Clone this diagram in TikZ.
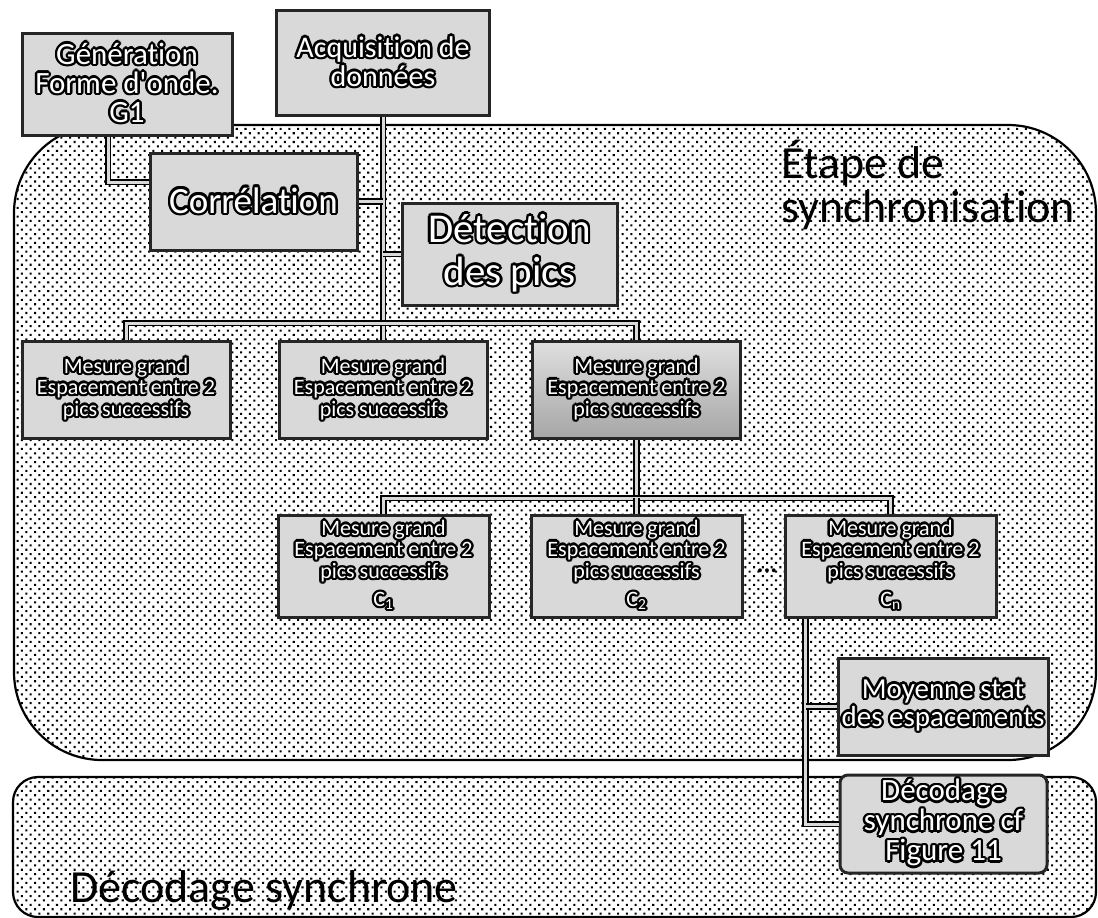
\documentclass[tikz,border=0pt]{standalone}
\usepackage{fontspec}
\setmainfont{Carlito}[Ligatures=NoCommon]
\usepackage{contour}
\contourlength{2.4pt}
\contournumber{12}
\usetikzlibrary{patterns.meta,calc}
\newcommand\glow[1]{\contour{black}{#1}}

\begin{document}
\begin{tikzpicture}[
  x=1pt, y=-1pt,
  zone/.style={draw=black, line width=2.2pt, preaction={fill=white},
               pattern={Dots[distance=6.2pt, angle=45, radius=1.45pt]},
               pattern color=black},
  box/.style={draw=black!85, line width=3pt, fill=gray!30, text=white,
              align=center, inner sep=0pt},
  pic/.style={box, minimum width=208, minimum height=97,
              font=\fontsize{22}{21}\selectfont},
  link/.style={draw=black, line width=1.6pt, double=gray!30,
               double distance=3pt},
  title/.style={font=\fontsize{46}{44}\selectfont, text=black, inner sep=0pt},
]
\useasboundingbox (0,0) rectangle (1098,918);

% ---- the two stages ---------------------------------------------------------
\draw[zone, rounded corners=88] (14,125) rectangle (1096,760);
\draw[zone, rounded corners=25] (13,777) rectangle (1096,917);
\node[title, anchor=base west] (etape) at (781,178) {Étape de};
\node[title, anchor=base west] (sync) at (781,222) {synchronisation};
\node[title, anchor=base west] (decod) at (70,902) {Décodage synchrone};

% ---- inputs -------------------------------------------------------------------
\node[box, minimum width=210, minimum height=102,
      font=\fontsize{31}{29}\selectfont] (gen) at (127,84)
  {\glow{Génération}\\\glow{Forme d\textquotesingle onde.}\\\glow{G1}};
\node[box, minimum width=213, minimum height=105,
      font=\fontsize{30}{29}\selectfont] (acq) at (383,62.5)
  {\glow{Acquisition de}\\\glow{données}};
\node[box, minimum width=207, minimum height=97,
      font=\fontsize{37}{37}\selectfont] (corr) at (253.5,201.5)
  {\glow{Corrélation}};
\node[box, minimum width=215, minimum height=102,
      font=\fontsize{41}{43}\selectfont] (det) at (509.5,254)
  {\glow{Détection}\\\glow{des pics}};

% ---- first row of measures ------------------------------------------------
\node[pic] (m1) at (126,390)
  {\glow{Mesure grand}\\\glow{Espacement entre 2}\\\glow{pics successifs}};
\node[pic] (m2) at (383,390)
  {\glow{Mesure grand}\\\glow{Espacement entre 2}\\\glow{pics successifs}};
\node[pic, top color=gray!25, bottom color=gray!70] (m3) at (636.5,390)
  {\glow{Mesure grand}\\\glow{Espacement entre 2}\\\glow{pics successifs}};

% ---- second row, one per class ----------------------------------------------
\node[pic, minimum width=211, minimum height=102] (c1) at (383.5,566)
  {\glow{Mesure grand}\\\glow{Espacement entre 2}\\\glow{pics successifs}\\[7pt]
   \glow{C\textsubscript{1}}};
\node[pic, minimum width=211, minimum height=102] (c2) at (636.5,566)
  {\glow{Mesure grand}\\\glow{Espacement entre 2}\\\glow{pics successifs}\\[7pt]
   \glow{C\textsubscript{2}}};
\node[pic, minimum width=211, minimum height=102] (cn) at (890.5,566)
  {\glow{Mesure grand}\\\glow{Espacement entre 2}\\\glow{pics successifs}\\[7pt]
   \glow{C\textsubscript{n}}};
\node[font=\fontsize{26}{26}\selectfont\bfseries] (etc) at (767,571) {...};

% ---- outputs ------------------------------------------------------------------
\node[box, minimum width=210, minimum height=97,
      font=\fontsize{29}{27}\selectfont] (moy) at (943,706.5)
  {\glow{Moyenne stat}\\\glow{des espacements}};
\node[box, rounded corners=8pt, minimum width=207, minimum height=98,
      font=\fontsize{31}{30}\selectfont] (decb) at (943.5,824)
  {\glow{Décodage}\\\glow{synchrone cf}\\\glow{Figure 11}};

% ---- connections --------------------------------------------------------------
\coordinate (bus1) at (383,323);
\coordinate (bus2) at (636.5,498);
\coordinate (tap) at ($(cn.south west)+(22,0)$);
\draw[link] ([xshift=-19pt]gen.south) |- ([yshift=19.5pt]corr.west);
\draw[link] (acq.south) -- (m2.north);
\draw[link] (corr.east) -- (corr.east -| acq.south);
\draw[link] (det.west) -- (det.west -| acq.south);
\draw[link] (m1.north) |- (bus1) -| (m3.north);
\draw[link] (m3.south) -- (bus2);
\draw[link] (c1.north) |- (bus2) -| (cn.north);
\draw[link] (c2.north) -- (bus2);
\draw[link] (tap) |- (decb.west);
\draw[link] (tap |- moy.west) -- (moy.west);

\end{tikzpicture}
\end{document}
